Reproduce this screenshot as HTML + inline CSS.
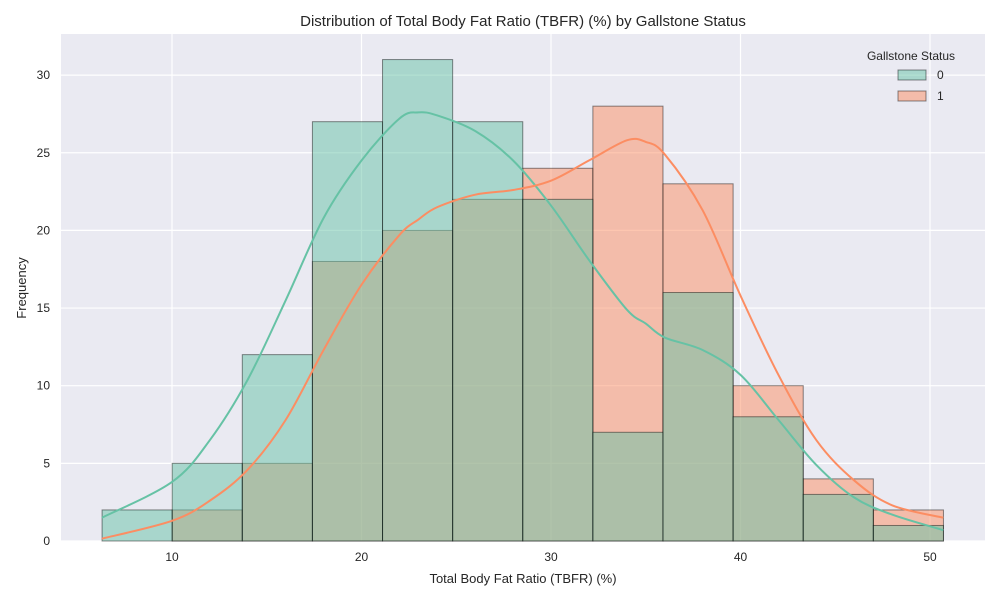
<!DOCTYPE html>
<html><head><meta charset="utf-8"><style>
body{margin:0;background:#fff;font-family:"Liberation Sans",sans-serif}
</style></head><body>
<svg id="c" width="1000" height="600" xmlns="http://www.w3.org/2000/svg" font-family="Liberation Sans, sans-serif"></svg>
<script>
const binStart = 6.31;
const binWidth = 3.7;
const counts0 = [2,5,12,27,31,27,22,7,16,8,3,1];
const counts1 = [0,2,5,18,20,22,24,28,23,10,4,2];
const kdeX = [6.3,10,12,14,16,18,20,22,23,24,26,28,30,32,34,35,36,38,40,42,44,46,48,50.7];
const kde0 = [1.5,3.8,6.5,10.4,15.5,20.8,24.5,27.2,27.6,27.4,26.4,24.5,21.6,18.1,14.9,14.0,13.1,12.3,10.7,7.8,4.9,2.8,1.7,0.7];
const kde1 = [0.15,1.3,2.6,4.6,7.8,12.3,16.5,19.7,20.7,21.5,22.3,22.6,23.2,24.5,25.8,25.7,24.9,21.3,15.8,10.7,6.5,3.9,2.3,1.5];
const xTicks = [10,20,30,40,50];
const yTicks = [0,5,10,15,20,25,30];

const svg = document.getElementById('c');
const NS = 'http://www.w3.org/2000/svg';
const L=61,R=985,T=34,B=541;
const xs = v => 172 + (v-10)*18.95;
const ys = v => 541 - v*15.53;
function mk(tag, attrs, parent){const e=document.createElementNS(NS,tag);for(const k in attrs)e.setAttribute(k,attrs[k]);(parent||svg).appendChild(e);return e;}

const bg = mk('rect',{x:L,y:T,width:R-L,height:B-T,fill:'#eaeaf2'});


xTicks.forEach(t=>{
  const g=mk('line',{x1:xs(t),x2:xs(t),y1:T,y2:B,stroke:'#fff','stroke-width':1.2});
  
  
  const tx=mk('text',{x:xs(t),y:B+20,'text-anchor':'middle','font-size':12,fill:'#262626'});
  tx.textContent=t;
  
  
});
yTicks.forEach(t=>{
  const g=mk('line',{x1:L,x2:R,y1:ys(t),y2:ys(t),stroke:'#fff','stroke-width':1.2});
  
  
  const tx=mk('text',{x:L-11,y:ys(t)+4,'text-anchor':'end','font-size':12,fill:'#262626'});
  tx.textContent=t;
  
  
});
function bars(counts,color,name){
  counts.forEach((c,i)=>{
    if(c<=0)return;
    const x0=xs(binStart+i*binWidth),x1=xs(binStart+(i+1)*binWidth);
    const r=mk('rect',{x:x0,y:ys(c),width:x1-x0,height:ys(0)-ys(c),fill:color,'fill-opacity':0.5,stroke:'rgba(0,0,0,0.45)','stroke-width':1});
    
    
  });
}
bars(counts1,'#fc8d62','bar-status-1');
bars(counts0,'#66c2a5','bar-status-0');
function curve(xv,yv,color,name){
  const p=xv.map((x,i)=>[xs(x),ys(yv[i])]);
  let d='M'+p[0][0]+','+p[0][1];
  for(let i=0;i<p.length-1;i++){
    const p0=p[i-1]||p[i],p1=p[i],p2=p[i+1],p3=p[i+2]||p2;
    d+=' C'+(p1[0]+(p2[0]-p0[0])/6)+','+(p1[1]+(p2[1]-p0[1])/6)+' '+(p2[0]-(p3[0]-p1[0])/6)+','+(p2[1]-(p3[1]-p1[1])/6)+' '+p2[0]+','+p2[1];
  }
  const e=mk('path',{d:d,fill:'none',stroke:color,'stroke-width':2});
  
  
}
curve(kdeX,kde0,'#66c2a5','kde-status-0');
curve(kdeX,kde1,'#fc8d62','kde-status-1');

const title=mk('text',{x:523,y:26,'text-anchor':'middle','font-size':15,fill:'#262626'});
title.textContent='Distribution of Total Body Fat Ratio (TBFR) (%) by Gallstone Status';


const xl=mk('text',{x:523,y:583,'text-anchor':'middle','font-size':13,fill:'#262626'});
xl.textContent='Total Body Fat Ratio (TBFR) (%)';


const yl=mk('text',{x:26,y:288,'text-anchor':'middle','font-size':13,fill:'#262626',transform:'rotate(-90 26 288)'});
yl.textContent='Frequency';



const lt=mk('text',{x:911,y:60,'text-anchor':'middle','font-size':12,fill:'#262626'});
lt.textContent='Gallstone Status';


[['0','#66c2a5',75],['1','#fc8d62',96]].forEach(([lab,col,y])=>{
  const r=mk('rect',{x:898,y:y-5,width:28,height:10,fill:col,'fill-opacity':0.5,stroke:'rgba(0,0,0,0.45)'});
  
  
  const t=mk('text',{x:937,y:y+4,'font-size':12,fill:'#262626'});
  t.textContent=lab;
  
  
});
</script>
</body></html>
